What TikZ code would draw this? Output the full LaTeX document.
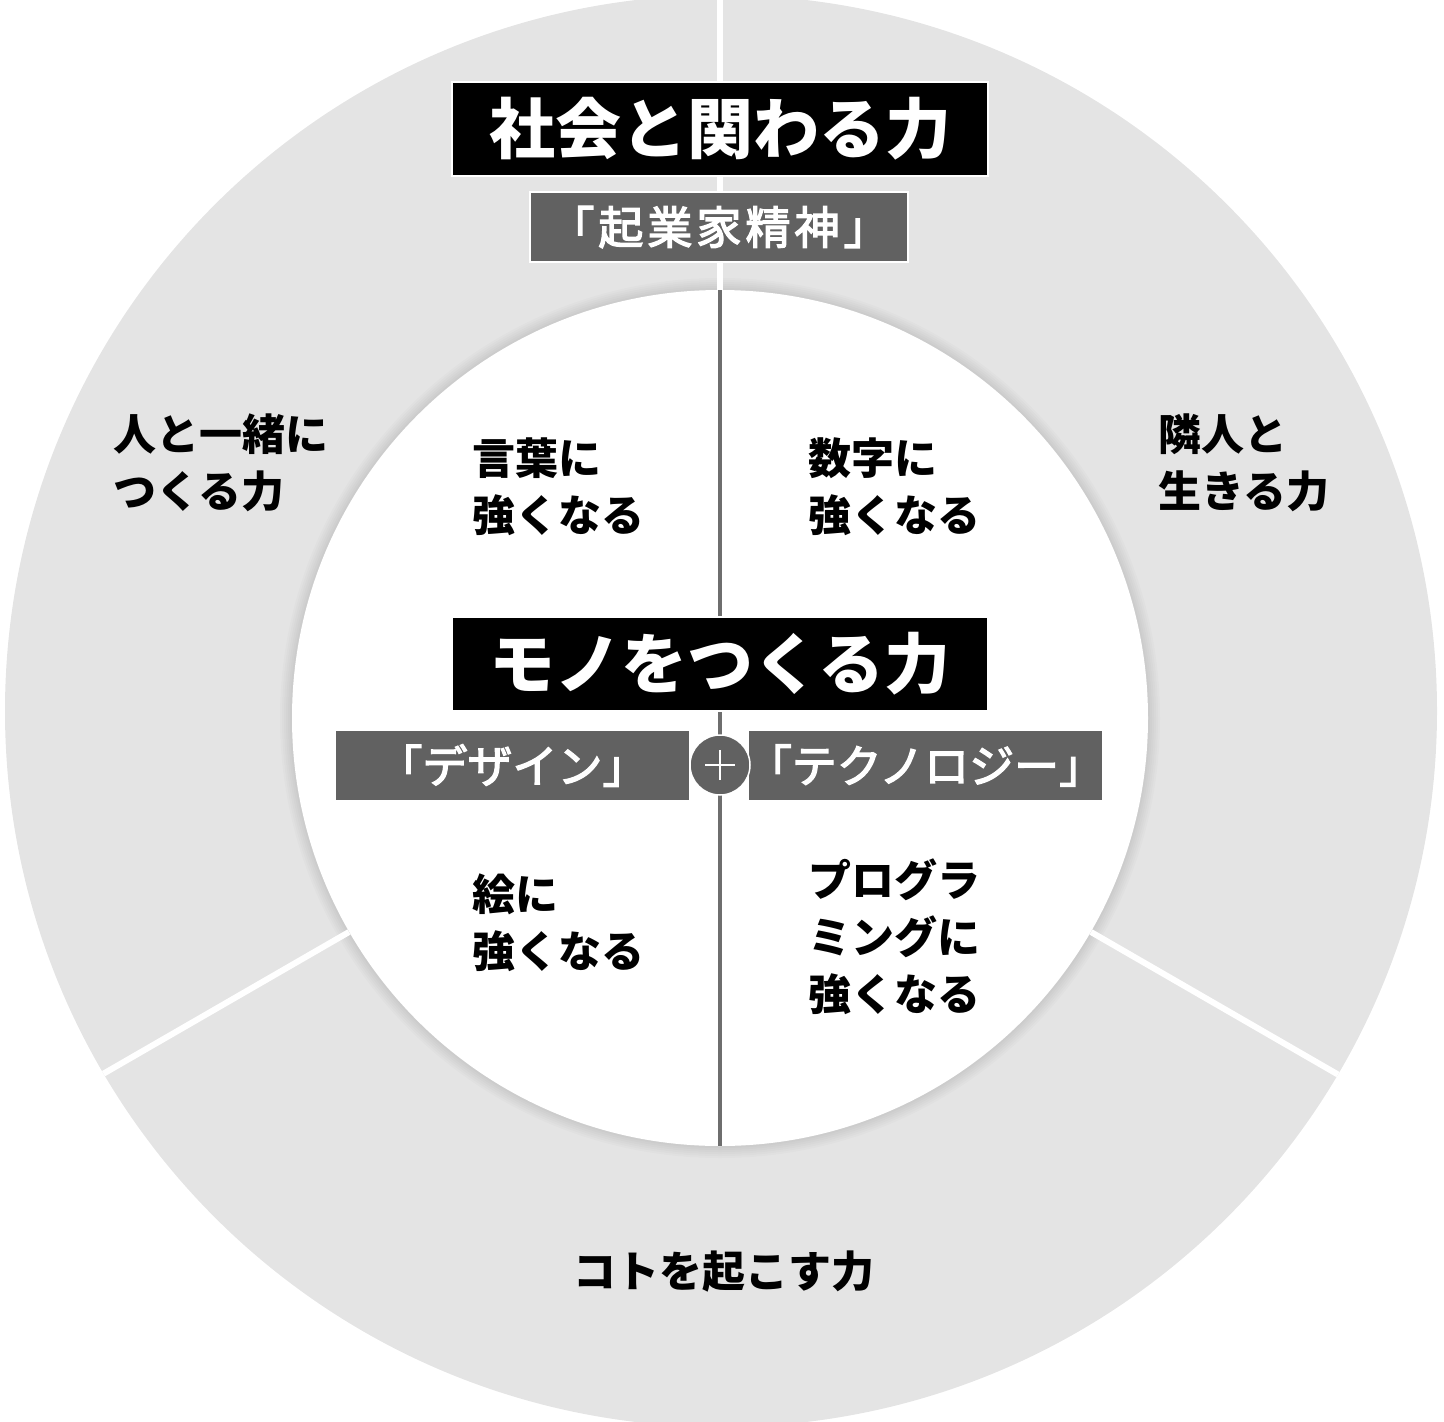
\documentclass[tikz,border=0pt]{standalone}
\usepackage{fontspec}
\newfontfamily\jp{Noto Sans CJK JP}
\newfontfamily\jpm{Noto Sans CJK JP}[FakeBold=3]
\definecolor{ringgray}{HTML}{E4E4E4}
\definecolor{boxgray}{HTML}{616161}
\definecolor{axisgray}{HTML}{6E6E6E}
\tikzset{
  titlebox/.style={fill=black, draw=white, line width=1.5pt, inner sep=0pt,
    minimum width=536pt, minimum height=94pt, text=white,
    font=\jp\bfseries\fontsize{66}{70}\selectfont},
  subbox/.style={fill=boxgray, draw=white, line width=1.5pt, inner sep=0pt,
    minimum height=70pt},
  subtext/.style={text=white, inner sep=0pt, font=\jpm\fontsize{45}{50}\selectfont},
  bodytext/.style={align=left, inner sep=0pt, anchor=west, text=black,
    font=\jp\bfseries\fontsize{43}{57}\selectfont},
  sepline/.style={white, line width=6pt},
}
\begin{document}
\begin{tikzpicture}[x=1pt,y=-1pt]
\useasboundingbox (0,0) rectangle (1444,1422);
% outer ring
\fill[ringgray] (721,711) circle[radius=716];
% soft shadow of inner circle
\foreach \k in {12,10,8,6,4,2} {
  \fill[black, opacity=0.016] (720,718) circle[radius=428+\k];
}
% separators
\begin{scope}
  \clip (721,711) circle[radius=716];
  \draw[sepline] (720,-10) -- (720,300);
  \draw[sepline] (349,932) -- (70,1093);
  \draw[sepline] (1091,932) -- (1370,1093);
\end{scope}
% inner circle
\fill[white] (720,718) circle[radius=428];
% axis
\coordinate (axtop) at (720,290);
\coordinate (axbot) at (720,1146);
\draw[axisgray, line width=4pt] (axtop) -- (axbot);

% top titles
\node[titlebox] (t1) at (720,129) {社会と関わる力};
\node[subbox, minimum width=378pt] (s1) at (719,227) {};
\node[subtext] (s1t) at (s1.center) {\addfontfeature{LetterSpace=9}「起業家精神」};

% center titles
\node[titlebox] (t2) at (720,664) {モノをつくる力};
\node[subbox, minimum width=355pt] (s2) at (512.5,765.5) {};
\node[subtext] (s2t) at (s2.center) {「デザイン」};
\node[subbox, minimum width=355pt] (s3) at (925.5,765.5) {};
\node[subtext] (s3t) at (s3.center) {「テクノロジー」};
% plus
\node[circle, fill=boxgray, draw=white, line width=1.5pt, minimum size=60pt, inner sep=0pt] (plus) at (720,765) {};
\draw[white, line width=2.5pt] ([xshift=-15pt]plus.center) -- ([xshift=15pt]plus.center);
\draw[white, line width=2.5pt] ([yshift=-15pt]plus.center) -- ([yshift=15pt]plus.center);

% ring texts
\node[bodytext] (l1) at (113,463) {人と一緒に\\つくる力};
\node[bodytext] (r1) at (1158,463) {隣人と\\生きる力};
\node[bodytext, anchor=center, align=center] (b1) at (724,1272) {コトを起こす力};

% inner texts
\node[bodytext] (q1) at (472,487) {言葉に\\強くなる};
\node[bodytext] (q2) at (808,487) {数字に\\強くなる};
\node[bodytext] (q3) at (472,923) {絵に\\強くなる};
\node[bodytext] (q4) at (808,937) {プログラ\\ミングに\\強くなる};
\end{tikzpicture}
\end{document}
